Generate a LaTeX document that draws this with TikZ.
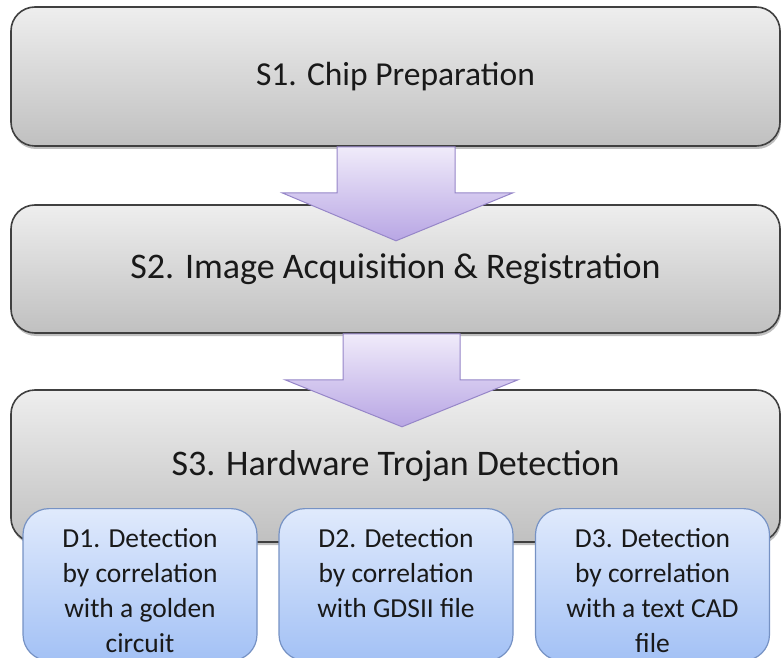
\documentclass[tikz,border=0pt]{standalone}
\usepackage{fontspec}
\setmainfont{Carlito}
\usetikzlibrary{calc,shadows}
\definecolor{gtop}{RGB}{238,238,238}
\definecolor{gbot}{RGB}{192,192,192}
\definecolor{gborder}{RGB}{64,64,64}
\definecolor{dtop}{RGB}{224,234,252}
\definecolor{dbot}{RGB}{163,193,245}
\definecolor{dborder}{RGB}{118,146,196}
\definecolor{atop}{RGB}{240,235,250}
\definecolor{abot}{RGB}{184,166,228}
\definecolor{aborder}{RGB}{150,134,200}
\definecolor{txt}{RGB}{25,25,25}
\begin{document}
\begin{tikzpicture}[x=1pt,y=1pt,
  stagebox/.style={draw=gborder, line width=1.6pt, rounded corners=24pt,
    top color=gtop, bottom color=gbot, minimum width=769pt, inner sep=0pt,
    text=txt, font=\fontsize{36}{42}\selectfont,
    drop shadow={shadow xshift=1pt, shadow yshift=-3pt, opacity=0.25, fill=black}},
  detectbox/.style={draw=dborder, line width=1.2pt, rounded corners=26pt,
    top color=dtop, bottom color=dbot, minimum width=234pt, minimum height=152pt,
    inner sep=0pt, anchor=north, text=txt},
  blockarrow/.style={draw=aborder, line width=1pt, top color=atop, bottom color=abot, line join=miter}
]
\useasboundingbox (0,0) rectangle (781,657);
\newcommand{\dtext}[1]{\parbox[t][150pt][t]{232pt}{\centering\fontsize{27.5}{35}\selectfont\vspace*{19pt}#1}}

\node[stagebox, minimum height=139pt, font=\fontsize{33.5}{40}\selectfont] (s1) at (395.5,580.5) {S1. Chip Preparation};
\node[stagebox, minimum height=128pt] (s2) at (395.5,388) {S2. Image Acquisition \& Registration};
\node[stagebox, minimum height=152pt] (s3) at (395.5,191) {S3. Hardware Trojan Detection};

\draw[blockarrow] ($(s1.south)+(-58.5,0)$) -- ($(s1.south)+(59.5,0)$) -- ($(s1.south)+(59.5,-46)$)
  -- ($(s1.south)+(117.5,-46)$) -- ($(s1.south)+(0.5,-94)$) -- ($(s1.south)+(-113.5,-46)$)
  -- ($(s1.south)+(-58.5,-46)$) -- cycle;
\draw[blockarrow] ($(s2.south)+(-52.5,0)$) -- ($(s2.south)+(64.5,0)$) -- ($(s2.south)+(64.5,-46)$)
  -- ($(s2.south)+(122.5,-46)$) -- ($(s2.south)+(6.5,-93)$) -- ($(s2.south)+(-110.5,-46)$)
  -- ($(s2.south)+(-52.5,-46)$) -- cycle;

\node[detectbox] (d1) at (140,149) {\dtext{D1. Detection\\by correlation\\with a golden\\circuit}};
\node[detectbox] (d2) at (396,149) {\dtext{D2. Detection\\by correlation\\with GDSII file}};
\node[detectbox] (d3) at (652.5,149) {\dtext{D3. Detection\\by correlation\\with a text CAD\\file}};
\end{tikzpicture}
\end{document}
